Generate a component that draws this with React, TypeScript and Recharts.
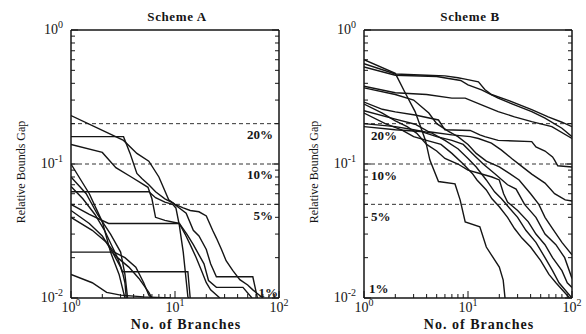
import React from "react"
import { LineChart, Line, XAxis, YAxis, ReferenceLine } from "recharts"

// axis ticks (log decades with minor ticks)
const xTickValues = [1, 2, 3, 4, 5, 6, 7, 8, 9, 10, 20, 30, 40, 50, 60, 70, 80, 90, 100]
const yTickValues = [0.01, 0.02, 0.03, 0.04, 0.05, 0.06, 0.07, 0.08, 0.09, 0.1, 0.2, 0.3, 0.4, 0.5, 0.6, 0.7, 0.8, 0.9, 1]
const majorValues = [0.01, 0.1, 1, 10, 100]

// gap levels marked with dashed lines
const gapLevels = [0.2, 0.1, 0.05]
const gapLabels = ["20%", "10%", "5%"]

// Scheme A curves: [branches, relative gap]
const schemeA1 = [[1, 0.23], [3.2, 0.15], [4.3, 0.12], [5.6, 0.105], [7, 0.08], [8.7, 0.054], [10, 0.05], [12, 0.047], [14, 0.045], [17, 0.044], [20, 0.041], [23, 0.032], [25, 0.028], [28, 0.023], [31, 0.019], [36, 0.016], [42, 0.0137], [50, 0.0125], [56, 0.0115], [70, 0.01]]
const schemeA2 = [[1, 0.16], [3.2, 0.16], [3.7, 0.12], [4.3, 0.085], [4.8, 0.078], [5.6, 0.07], [6.5, 0.062], [8, 0.055], [9.6, 0.051], [11, 0.047], [12.8, 0.043], [15, 0.032], [17, 0.029], [20, 0.023], [22, 0.018], [25, 0.0144], [56, 0.0144], [62, 0.01]]
const schemeA3 = [[1, 0.14], [2, 0.122], [2.7, 0.094], [3.8, 0.08], [5.5, 0.067], [6, 0.055], [6.5, 0.04], [8, 0.038], [11, 0.036], [13, 0.03], [15, 0.025], [17, 0.021], [19, 0.018], [21, 0.0135], [25, 0.012], [45, 0.012], [55, 0.01]]
const schemeA4 = [[1, 0.062], [5.6, 0.062], [6.5, 0.056], [8, 0.052], [9.5, 0.05], [10.2, 0.047], [11, 0.035], [12, 0.022], [13.3, 0.0102], [13.5, 0.01]]
const schemeA5 = [[1, 0.1], [1.5, 0.06], [2, 0.037], [2.4, 0.022], [2.9, 0.015], [3.2, 0.011], [3.3, 0.01]]
const schemeA6 = [[1, 0.068], [1.3, 0.055], [1.7, 0.042], [2.1, 0.032], [2.5, 0.024], [2.8, 0.02], [3.1, 0.016], [3.3, 0.013], [3.4, 0.01]]
const schemeA7 = [[1, 0.05], [1.5, 0.042], [2.3, 0.036], [11, 0.036], [12.5, 0.03], [14, 0.025], [16, 0.02], [18, 0.016], [20, 0.013], [22, 0.0115], [27, 0.01]]
const schemeA8 = [[1, 0.022], [2.5, 0.022], [2.8, 0.02], [3.6, 0.017], [4.5, 0.014], [5.6, 0.011], [6, 0.01]]
const schemeA9 = [[1, 0.015], [1.6, 0.013], [2.2, 0.011], [3, 0.0105], [5, 0.0102], [9, 0.01]]
const schemeA10 = [[1, 0.045], [1.5, 0.036], [2, 0.029], [2.5, 0.022], [3, 0.017], [3.1, 0.0157], [13.3, 0.0157], [14, 0.01]]
const schemeA11 = [[1, 0.04], [1.6, 0.032], [2.2, 0.026], [2.6, 0.022], [3.3, 0.02], [4.2, 0.017], [5, 0.013], [5.6, 0.0105], [6, 0.01]]
const schemeA12 = [[1, 0.08], [1.4, 0.06], [1.8, 0.042], [2.4, 0.03], [3, 0.022], [3.3, 0.015], [3.5, 0.01]]

// Scheme B curves
const schemeB1 = [[1, 0.6], [2, 0.475], [2.5, 0.337], [3.1, 0.246], [3.5, 0.19], [3.9, 0.15], [4.3, 0.107], [5.2, 0.074], [7.5, 0.071], [8.4, 0.054], [9.4, 0.037], [13, 0.034], [15, 0.024], [20, 0.017], [21.8, 0.0136], [22.7, 0.01]]
const schemeB2 = [[1, 0.56], [2, 0.47], [4, 0.46], [6, 0.455], [8, 0.44], [9.4, 0.43], [12.6, 0.41], [14.5, 0.36], [16.8, 0.33], [24, 0.3], [41, 0.255], [59, 0.225], [80, 0.205], [100, 0.19]]
const schemeB3 = [[1, 0.53], [2, 0.46], [5, 0.45], [8.5, 0.42], [10, 0.39], [13.5, 0.357], [19.5, 0.31], [28, 0.276], [41, 0.246], [55, 0.22], [80, 0.185], [100, 0.16]]
const schemeB4 = [[1, 0.38], [2, 0.34], [4, 0.33], [7, 0.31], [9.4, 0.31], [13.5, 0.276], [19.5, 0.246], [28, 0.225], [41, 0.207], [64, 0.19], [100, 0.155]]
const schemeB5 = [[1, 0.29], [1.5, 0.256], [2, 0.245], [3.1, 0.232], [5.2, 0.213], [6, 0.18], [10.5, 0.178], [13, 0.165], [14.5, 0.16], [19.5, 0.15], [41, 0.147], [45, 0.134], [55, 0.125], [65, 0.113], [68, 0.107], [73, 0.097], [100, 0.095]]
const schemeB6 = [[1, 0.25], [2, 0.216], [3.1, 0.198], [4.2, 0.174], [7, 0.165], [10.5, 0.16], [12.6, 0.155], [16.8, 0.143], [21, 0.127], [26.3, 0.11], [32.9, 0.096], [41, 0.084], [55, 0.072], [68, 0.06], [86, 0.054], [100, 0.053]]
const schemeB7 = [[1, 0.37], [2, 0.33], [3, 0.3], [4.2, 0.24], [5, 0.2], [6.5, 0.175], [8, 0.16], [10, 0.14], [12, 0.12], [15, 0.105], [20, 0.095], [25, 0.085], [31, 0.076], [40, 0.06], [48, 0.05], [55, 0.04], [65, 0.033], [80, 0.026], [100, 0.021]]
const schemeB8 = [[1, 0.24], [1.6, 0.2], [2.3, 0.18], [3, 0.16], [4, 0.15], [5.5, 0.14], [7, 0.12], [9, 0.1], [11, 0.085], [12.2, 0.076], [15, 0.064], [17, 0.055], [20, 0.048], [24, 0.04], [28, 0.033], [33, 0.028], [40, 0.024], [50, 0.019], [60, 0.015], [70, 0.013], [85, 0.011], [95, 0.01]]
const schemeB9 = [[1, 0.2], [2, 0.19], [3, 0.18], [4.5, 0.17], [6, 0.15], [8, 0.13], [10, 0.11], [12, 0.095], [15, 0.076], [18, 0.062], [21, 0.055], [25, 0.047], [30, 0.04], [36, 0.032], [45, 0.026], [55, 0.02], [65, 0.016], [75, 0.013], [90, 0.011], [100, 0.01]]
const schemeB10 = [[1, 0.28], [1.5, 0.24], [2, 0.21], [2.6, 0.19], [3.2, 0.17], [4, 0.14], [5, 0.125], [6, 0.11], [8, 0.1], [10, 0.09], [13, 0.085], [17, 0.08], [20, 0.076], [22, 0.06], [24, 0.052], [30, 0.045], [38, 0.037], [45, 0.03], [55, 0.025], [65, 0.02], [80, 0.016], [90, 0.013], [100, 0.012]]
const schemeB11 = [[1, 0.19], [2, 0.18], [3.5, 0.175], [5, 0.16], [7, 0.15], [9, 0.14], [11, 0.12], [14, 0.1], [18, 0.085], [24, 0.07], [29, 0.065], [35, 0.05], [45, 0.04], [55, 0.03], [70, 0.025], [85, 0.02], [100, 0.014]]

const schemeA = [schemeA1, schemeA2, schemeA3, schemeA4, schemeA5, schemeA6, schemeA7, schemeA8, schemeA9, schemeA10, schemeA11, schemeA12]
const schemeB = [schemeB1, schemeB2, schemeB3, schemeB4, schemeB5, schemeB6, schemeB7, schemeB8, schemeB9, schemeB10, schemeB11]

const FONT = '"Liberation Serif", "Times New Roman", serif'
const INK = "#151515"

const isMajor = (v: number) => majorValues.some((m) => Math.abs(m - v) / m < 1e-6)
const exponent = (v: number) => String(Math.round(Math.log10(v)))

function makeTick(side: "bottom" | "top" | "left" | "right") {
  return (props: any) => {
    const { x, y, payload } = props
    const v = payload.value
    const major = isMajor(v)
    const len = major ? 7 : 4
    let line
    if (side === "bottom") line = <line x1={x} y1={y} x2={x} y2={y - len} />
    else if (side === "top") line = <line x1={x} y1={y} x2={x} y2={y + len} />
    else if (side === "left") line = <line x1={x} y1={y} x2={x + len} y2={y} />
    else line = <line x1={x} y1={y} x2={x - len} y2={y} />

    let label = null
    if (major && side === "bottom") {
      label = (
        <text x={x} y={y + 14} textAnchor="middle" fontFamily={FONT} fontSize={14} fill={INK} stroke="none">
          10<tspan dy={-6} fontSize={10}>{exponent(v)}</tspan>
        </text>
      )
    }
    if (major && side === "left") {
      label = (
        <text x={x - 8} y={y + 4} textAnchor="end" fontFamily={FONT} fontSize={14} fill={INK} stroke="none">
          10<tspan dy={-6} fontSize={10}>{exponent(v)}</tspan>
        </text>
      )
    }
    return (
      <g>
        <g stroke={INK} strokeWidth={1}>{line}</g>
        {label}
      </g>
    )
  }
}

const frameLine = { stroke: INK, strokeWidth: 1.5 }

function Panel({ title, curves, side }: { title: string; curves: number[][][]; side: "right" | "left" }) {
  const pos = side === "right" ? "insideTopRight" : "insideTopLeft"
  const bottomPos = side === "right" ? "insideBottomRight" : "insideBottomLeft"
  return (
    <div style={{ position: "relative", width: 293, height: 334 }}>
      <LineChart width={293} height={334} margin={{ top: 20, right: 4, bottom: 6, left: 11 }}>
        <XAxis xAxisId="b" type="number" dataKey="x" scale="log" domain={[1, 100]} allowDataOverflow
          ticks={xTickValues} interval={0} height={30} tickSize={0} tickMargin={0} tickLine={false}
          axisLine={frameLine} tick={makeTick("bottom")} />
        <XAxis xAxisId="t" orientation="top" type="number" scale="log" domain={[1, 100]} allowDataOverflow
          ticks={xTickValues} interval={0} height={10} tickSize={0} tickMargin={0} tickLine={false}
          axisLine={frameLine} tick={makeTick("top")} />
        <YAxis yAxisId="l" type="number" scale="log" domain={[0.01, 1]} allowDataOverflow
          ticks={yTickValues} interval={0} width={60} tickSize={0} tickMargin={0} tickLine={false}
          axisLine={frameLine} tick={makeTick("left")} />
        <YAxis yAxisId="r" orientation="right" type="number" scale="log" domain={[0.01, 1]} allowDataOverflow
          ticks={yTickValues} interval={0} width={10} tickSize={0} tickMargin={0} tickLine={false}
          axisLine={frameLine} tick={makeTick("right")} />
        {gapLevels.map((g, i) => (
          <ReferenceLine key={g} xAxisId="b" yAxisId="l" y={g} stroke="#333" strokeWidth={1}
            strokeDasharray="4 3"
            label={{ value: gapLabels[i], position: pos, offset: side === "right" ? 6 : 7, fontFamily: FONT, fontSize: 13, fontWeight: "bold", fill: INK }} />
        ))}
        <ReferenceLine xAxisId="b" yAxisId="l" y={0.01} strokeOpacity={0}
          label={{ value: "1%", position: bottomPos, offset: side === "right" ? 1 : 5, fontFamily: FONT, fontSize: 13, fontWeight: "bold", fill: INK }} />
        {curves.map((c, i) => (
          <Line key={i} xAxisId="b" yAxisId="l" data={c.map(([x, y]) => ({ x, y }))} dataKey="y"
            type="linear" stroke={INK} strokeWidth={1.4} dot={false} isAnimationActive={false} />
        ))}
      </LineChart>
      <svg width={293} height={334} style={{ position: "absolute", left: 0, top: 0, pointerEvents: "none" }}>
        <text x={177} y={21} textAnchor="middle" fontFamily={FONT} fontWeight="bold" fontSize={13} letterSpacing={0.6} fill={INK}>{title}</text>
        <text transform="translate(25,172) rotate(-90)" textAnchor="middle" fontFamily={FONT} fontSize={12} fill={INK}>Relative Bounds Gap</text>
        <text x={186} y={329} textAnchor="middle" fontFamily={FONT} fontWeight="bold" fontSize={14} letterSpacing={1} fill={INK}>No. of Branches</text>
      </svg>
    </div>
  )
}

export default function App() {
  return (
    <div style={{ position: "absolute", left: 0, top: 0, width: 586, height: 334, background: "#fff", display: "flex" }}>
      <Panel title="Scheme A" curves={schemeA} side="right" />
      <Panel title="Scheme B" curves={schemeB} side="left" />
    </div>
  )
}
